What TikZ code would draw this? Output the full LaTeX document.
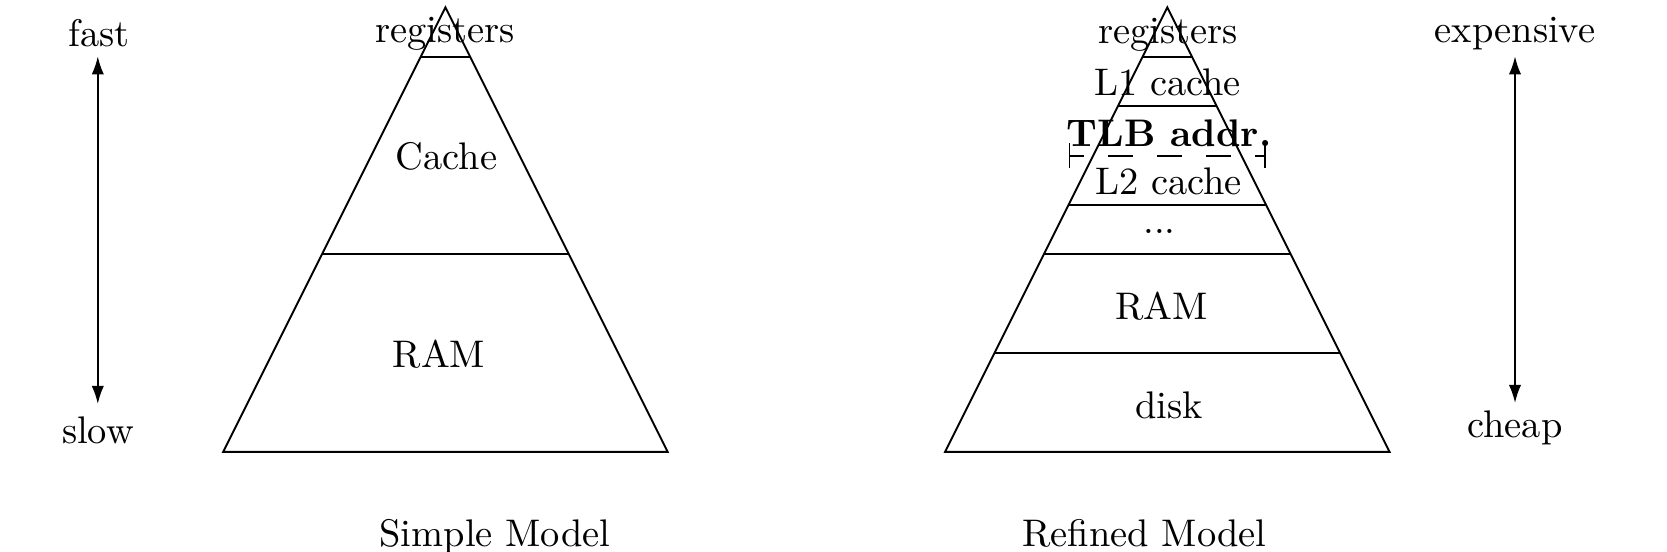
\documentclass[tikz,border=0pt]{standalone}
\usetikzlibrary{arrows.meta,calc}
\begin{document}
\begin{tikzpicture}[x=0.26pt,y=-0.26pt,line width=0.5pt,
  lbl/.style={anchor=base,inner sep=0pt,outer sep=0pt,font=\fontsize{10}{12}\selectfont},
  bold/.style={lbl,font=\fontsize{10}{12}\selectfont\bfseries},
  scalearrow/.style={{Latex[length=4.7pt,width=3.2pt]}-{Latex[length=4.7pt,width=3.2pt]}},
  tlbline/.style={{Bar[width=6.5pt]}-{Bar[width=6.5pt]},dash pattern=on 6.5pt off 6.24pt,dash phase=2.8pt}]
\useasboundingbox (0,0) rectangle (1667,552);
\def\u{49.38}
% left scale
\node[lbl] (fast) at (99,47) {fast};
\node[lbl] (slow) at (98,443) {slow};
\coordinate (fasttop) at (97.8,56.3);
\coordinate (slowbot) at (97.8,404);
\draw[scalearrow] (fasttop) -- (slowbot);
% right scale
\node[lbl] (expensive) at (1515,43) {expensive};
\node[lbl] (cheap) at (1515,437) {cheap};
\coordinate (exptop) at (1515,56.3);
\coordinate (cheapbot) at (1515,403);
\draw[scalearrow] (exptop) -- (cheapbot);
% simple pyramid
\coordinate (LA) at (445.4,7.4);
\coordinate (LL) at ($(LA)+(-4.5*\u,9*\u)$);
\coordinate (LR) at ($(LA)+(4.5*\u,9*\u)$);
\draw (LA) -- (LL) -- (LR) -- cycle;
\foreach \k/\n in {1/a,5/b}{
  \coordinate (L\n l) at ($(LA)+(-\k*\u/2,\k*\u)$);
  \coordinate (L\n r) at ($(LA)+(\k*\u/2,\k*\u)$);
  \draw (L\n l) -- (L\n r);
}
\node[lbl] (lreg) at (445,43) {registers};
\node[lbl] (lcache) at (446.5,169.5) {Cache};
\node[lbl] (lram) at (439,367.5) {RAM};
\node[lbl] (simple) at (495,546) {Simple Model};
% refined pyramid
\coordinate (RA) at (1167.3,7.4);
\coordinate (RL) at ($(RA)+(-4.5*\u,9*\u)$);
\coordinate (RR) at ($(RA)+(4.5*\u,9*\u)$);
\draw (RA) -- (RL) -- (RR) -- cycle;
\foreach \k/\n in {1/a,2/b,4/c,5/d,7/e}{
  \coordinate (R\n l) at ($(RA)+(-\k*\u/2,\k*\u)$);
  \coordinate (R\n r) at ($(RA)+(\k*\u/2,\k*\u)$);
  \draw (R\n l) -- (R\n r);
}
\coordinate (tlbl) at ($(RA)+(-2*\u,3*\u)$);
\coordinate (tlbr) at ($(RA)+(2*\u,3*\u)$);
\draw[tlbline] (tlbl) -- (tlbr);
\node[lbl] (rreg) at (1168,43.5) {registers};
\node[lbl] (l1) at (1167.5,95.5) {L1 cache};
\node[bold] (tlb) at (1169,146.5) {TLB addr.};
\node[lbl] (l2) at (1168.5,195) {L2 cache};
\node[lbl] (dots) at (1159.5,234) {...};
\node[lbl] (rram) at (1161.5,319.5) {RAM};
\node[lbl] (disk) at (1169,418.5) {disk};
\node[lbl] (refined) at (1144.5,546) {Refined Model};
\end{tikzpicture}
\end{document}
